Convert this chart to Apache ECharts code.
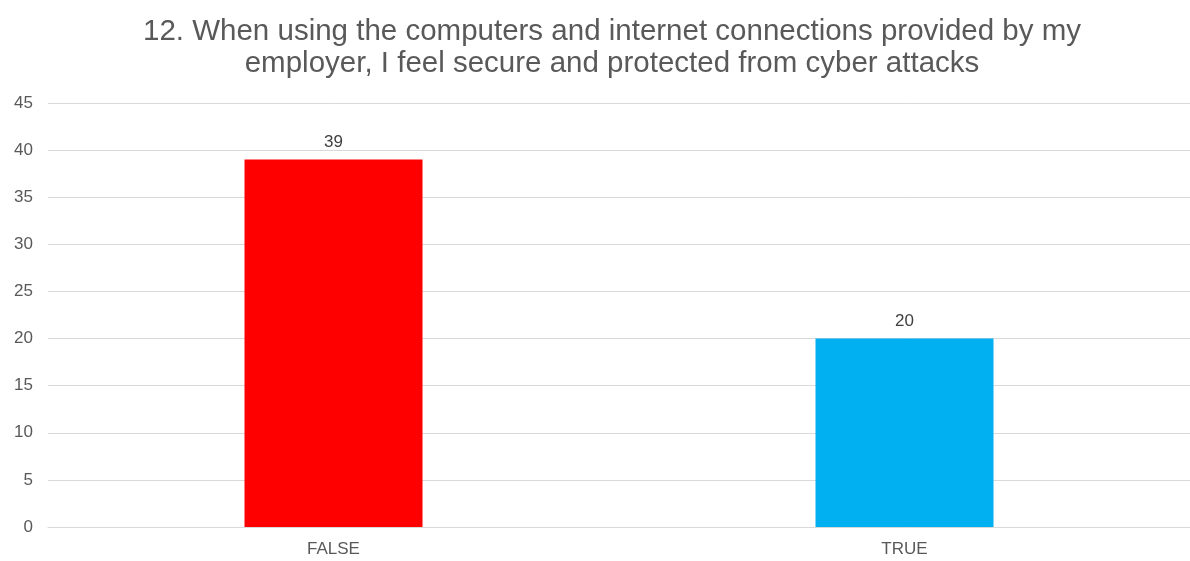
<!DOCTYPE html>
<html>
<head>
<meta charset="utf-8">
<script src="https://cdn.jsdelivr.net/npm/echarts@6/dist/echarts.min.js"></script>
<style>
  html, body { margin: 0; padding: 0; background: #fff; }
  #chart { width: 1190px; height: 561px; }
</style>
</head>
<body>
<div id="chart"></div>
<script>
const titleText = '12. When using the computers and internet connections provided by my\nemployer, I feel secure and protected from cyber attacks';
const categories = ['FALSE', 'TRUE'];
const counts = [39, 20];
const barColors = ['#FF0000', '#00B0F0'];

const fontFamily = 'Liberation Sans, Arial, sans-serif';

const chart = echarts.init(document.getElementById('chart'));
chart.setOption({
  animation: false,
  title: {
    text: titleText,
    left: 607,
    top: 11,
    textAlign: 'center',
    textStyle: {
      fontFamily: fontFamily,
      fontSize: 29.5,
      fontWeight: 'normal',
      color: '#595959',
      lineHeight: 32
    }
  },
  grid: { left: 48, right: 0, top: 103, bottom: 34 },
  xAxis: {
    type: 'category',
    data: categories,
    axisLine: { show: true, lineStyle: { color: '#d9d9d9', width: 1 } },
    axisTick: { show: false },
    axisLabel: {
      color: '#595959',
      fontSize: 17,
      fontFamily: fontFamily,
      margin: 14
    }
  },
  yAxis: {
    type: 'value',
    min: 0,
    max: 45,
    interval: 5,
    axisLine: { show: false },
    axisTick: { show: false },
    splitLine: { lineStyle: { color: '#d9d9d9', width: 1 } },
    axisLabel: {
      color: '#595959',
      fontSize: 17,
      fontFamily: fontFamily,
      margin: 15,
      align: 'right'
    }
  },
  series: [{
    type: 'bar',
    barWidth: 178,
    data: counts.map((v, i) => ({ value: v, itemStyle: { color: barColors[i] } })),
    label: {
      show: true,
      position: 'top',
      distance: 9,
      color: '#404040',
      fontSize: 17,
      fontFamily: fontFamily
    }
  }]
});
</script>
</body>
</html>
